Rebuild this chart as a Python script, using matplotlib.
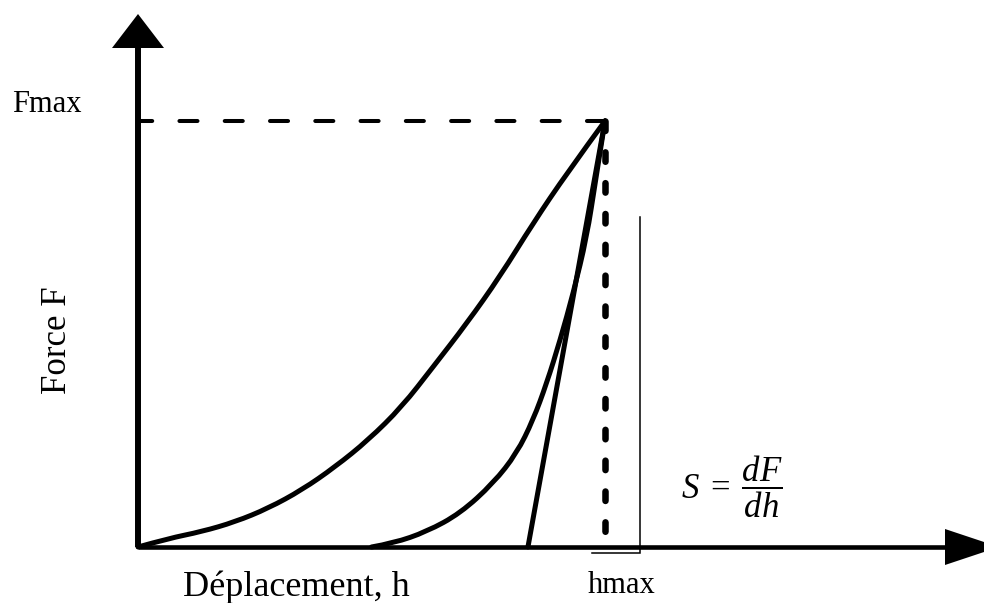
import matplotlib
matplotlib.use("Agg")
import matplotlib.pyplot as plt
from matplotlib.patches import Polygon, PathPatch
from matplotlib.path import Path

plt.rcParams['font.family'] = ['Liberation Serif', 'DejaVu Serif']
plt.rcParams['mathtext.fontset'] = 'custom'
plt.rcParams['mathtext.rm'] = 'Liberation Serif'
plt.rcParams['mathtext.it'] = 'Liberation Serif:italic'
plt.rcParams['lines.scale_dashes'] = False

# ---- data (normalised: h / hmax, F / Fmax) ----
h_load = [0.0, 0.065, 0.136, 0.208, 0.279, 0.351, 0.422, 0.493, 0.565,
          0.632, 0.704, 0.775, 0.846, 0.918, 1.0]
F_load = [0.0, 0.020, 0.036, 0.059, 0.091, 0.134, 0.188, 0.251, 0.329,
          0.423, 0.525, 0.635, 0.760, 0.877, 1.0]

h_unload = [0.500, 0.547, 0.618, 0.690, 0.761, 0.811, 0.846, 0.875,
            0.904, 0.932, 0.961, 0.980, 1.0]
F_unload = [0.0, 0.009, 0.036, 0.079, 0.150, 0.220, 0.298, 0.384,
            0.486, 0.596, 0.728, 0.862, 1.0]

h_tangent = [0.835, 1.0]
F_tangent = [0.0, 1.0]

hmax = 1.0
Fmax = 1.0

# ---- figure ----
W, H = 984, 603
OX, OY = 138, 547      # pixel of origin
SX, SY = 467, 426      # pixels per unit

def d(px, py):
    return (px - OX) / SX, (OY - py) / SY

def smooth_path(xs, ys):
    """Quadratic B-spline style path: read points used as control points."""
    pts = list(zip(xs, ys))
    verts = [pts[0]]
    codes = [Path.MOVETO]
    for i in range(1, len(pts) - 1):
        mid = ((pts[i][0] + pts[i + 1][0]) / 2, (pts[i][1] + pts[i + 1][1]) / 2)
        if i == len(pts) - 2:
            mid = pts[-1]
        verts += [pts[i], mid]
        codes += [Path.CURVE3, Path.CURVE3]
    return Path(verts, codes)

fig = plt.figure(figsize=(W / 100, H / 100), dpi=100)
ax = fig.add_axes([0, 0, 1, 1])
x0, y1 = d(0, 0)
x1, y0 = d(W, H)
ax.set_xlim(x0, x1)
ax.set_ylim(y0, y1)
ax.axis('off')

k = 'black'
# axes
ytop = d(0, 48)[1]
xright = d(945, 0)[0]
ax.plot([0, 0], [0, ytop], color=k, lw=4.3, solid_capstyle='butt')
ax.plot([0, xright], [0, 0], color=k, lw=3.3, solid_capstyle='butt')
# arrowheads
ytip = d(0, 14)[1]
hw = 26 / SX
ax.add_patch(Polygon([(-hw, ytop), (hw, ytop), (0, ytip)], closed=True, color=k, lw=0))
xtip = d(999, 0)[0]
hh = 18 / SY
ax.add_patch(Polygon([(xright, -hh), (xright, hh), (xtip, 0)], closed=True, color=k, lw=0))

# Fmax dashed line (drawn from peak to the left)
ax.plot([hmax, 0], [Fmax, Fmax], color=k, lw=2.9, dashes=(13.0, 19.6),
        dash_capstyle='round')
# hmax dashed line (drawn from peak downward)
ax.plot([hmax, hmax], [Fmax, 0], color=k, lw=4.7, dashes=(6.8, 15.4),
        dash_capstyle='round')

# curves
for xs, ys in [(h_load, F_load), (h_unload, F_unload)]:
    ax.add_patch(PathPatch(smooth_path(xs, ys), fill=False, edgecolor=k, lw=3.6,
                           joinstyle='round', capstyle='round'))
ax.plot(h_tangent, F_tangent, color=k, lw=3.6, solid_capstyle='round')

# thin bracket line
bx = d(640, 0)[0]
bl = d(592, 0)[0]
btop = d(0, 217)[1]
bbot = d(0, 553)[1]
ax.plot([bx, bx, bl], [btop, bbot, bbot], color=k, lw=1.1, solid_joinstyle='miter')

# texts
ax.text(*d(47, 104), 'Fmax', fontsize=22, ha='center', va='center')
ax.text(*d(57, 340), 'Force F', fontsize=25, rotation=90, ha='center', va='center')
ax.text(*d(296, 596), 'Déplacement, h', fontsize=26, ha='center', va='baseline')
ax.text(*d(622, 593), 'hmax', fontsize=22, ha='center', va='baseline')
ax.text(*d(732, 487), r'$S\;=\;\dfrac{dF}{dh}$', fontsize=25, ha='center', va='center')

fig.savefig('out.png', dpi=100)
